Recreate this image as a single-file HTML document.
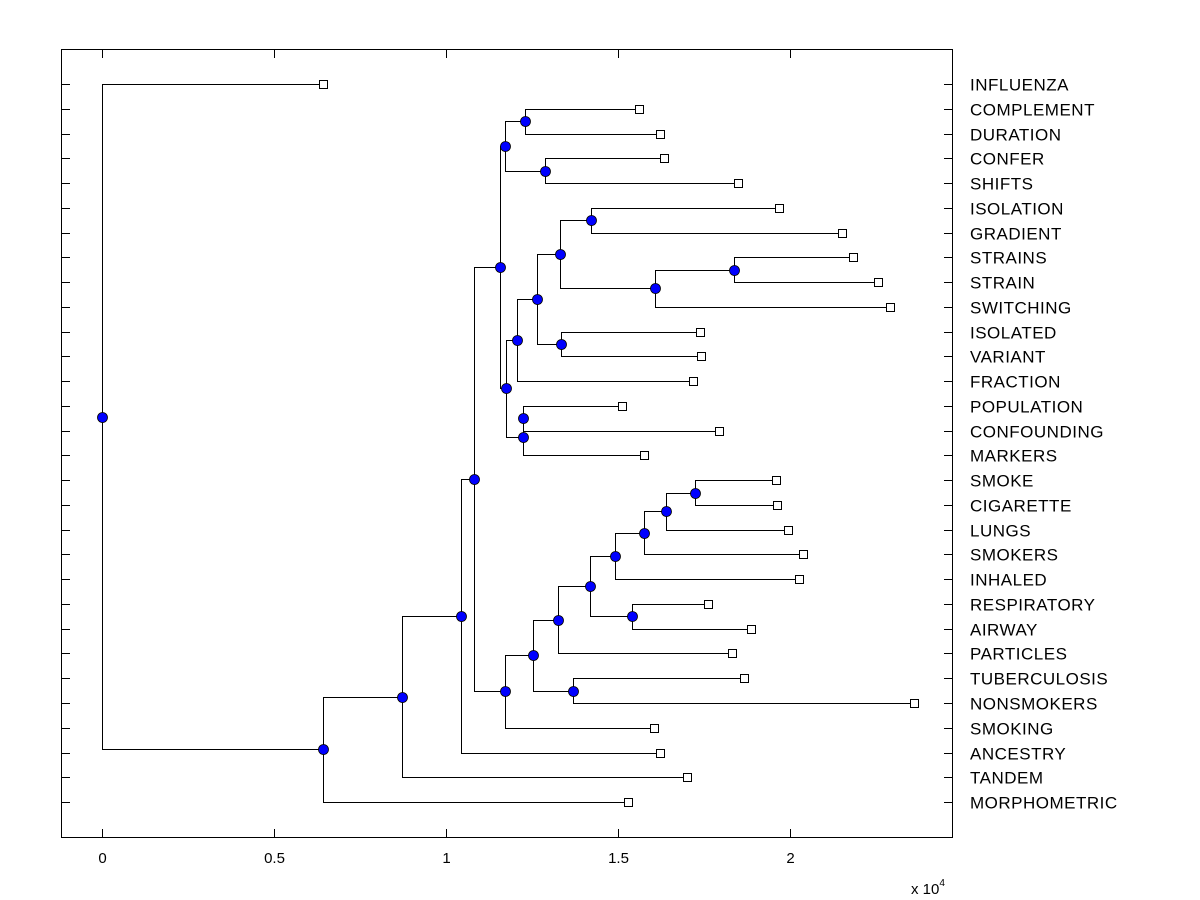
<!DOCTYPE html>
<html><head><meta charset="utf-8"><style>
body{margin:0;background:#fff;}
svg{display:block;font-family:"Liberation Sans",Arial,sans-serif;}
</style></head><body>
<svg id="chart" width="1200" height="900" viewBox="0 0 1200 900">
<rect x="0" y="0" width="1200" height="900" fill="#fff"/>
<rect x="61.5" y="49.5" width="891" height="788" fill="#fff" stroke="#000" stroke-width="1"/>
<g id="ticks"></g>
<g id="links"></g>
<g id="marks"></g>
<g id="labels"></g>
<text x="911" y="894" font-size="15">x 10<tspan font-size="10" dy="-8">4</tspan></text>
</svg>
<script>
const leafLabels=["INFLUENZA","COMPLEMENT","DURATION","CONFER","SHIFTS","ISOLATION","GRADIENT","STRAINS","STRAIN","SWITCHING","ISOLATED","VARIANT","FRACTION","POPULATION","CONFOUNDING","MARKERS","SMOKE","CIGARETTE","LUNGS","SMOKERS","INHALED","RESPIRATORY","AIRWAY","PARTICLES","TUBERCULOSIS","NONSMOKERS","SMOKING","ANCESTRY","TANDEM","MORPHOMETRIC"];
const leafHeights=[6450,15620,16230,16345,18500,19690,21527,21847,22575,22924,17393,17422,17190,15123,17946,15763,19606,19635,19955,20392,20275,17626,18878,18325,18674,23623,16054,16230,17015,15297];
const mergeLeft=[1,3,30,5,7,34,33,10,36,38,13,40,39,32,16,44,45,46,21,47,49,24,50,52,43,54,55,56,0];
const mergeRight=[2,4,31,6,8,9,35,11,37,12,14,15,41,42,17,18,19,20,22,48,23,25,51,26,53,27,28,29,57];
const mergeHeights=[12299,12881,11717,14220,18383,16083,13318,13347,12648,12066,12241,12241,11746,11571,17248,16404,15763,14919,15414,14191,13260,13696,12532,11717,10814,10465,8748,6450,0];
const xTickValues=[0,0.5,1,1.5,2];
const xTickLabels=["0","0.5","1","1.5","2"];

const NS="http://www.w3.org/2000/svg";
const X0=101.5, XS=0.0344, Y0=84, YS=24.76;
function xs(v){return X0+v*XS;}
function ys(r){return Y0+r*YS;}
function mk(tag,attrs,parent){const e=document.createElementNS(NS,tag);for(const k in attrs)e.setAttribute(k,attrs[k]);document.getElementById(parent).appendChild(e);return e;}

const ticks="ticks";
xTickValues.forEach((v,i)=>{
  const x=Math.round(xs(v*10000))+0.5;
  let t=mk("line",{x1:x,x2:x,y1:50,y2:58,stroke:"#000"},ticks);
  
  
  t=mk("line",{x1:x,x2:x,y1:829,y2:837,stroke:"#000"},ticks);
  
  
  const l=mk("text",{x:x,y:863,"font-size":"15","text-anchor":"middle"},ticks);
  l.textContent=xTickLabels[i];
  
  
});

const nodeX=[],nodeY=[];
leafLabels.forEach((n,i)=>{nodeX[i]=xs(leafHeights[i]);nodeY[i]=ys(i);});
mergeLeft.forEach((a,k)=>{const b=mergeRight[k];const id=leafLabels.length+k;nodeX[id]=xs(mergeHeights[k]);nodeY[id]=(nodeY[a]+nodeY[b])/2;});

mergeLeft.forEach((a,k)=>{
  const b=mergeRight[k];const id=leafLabels.length+k;const px=Math.round(nodeX[id])+0.5;
  [a,b].forEach(c=>{
    const cy=Math.round(nodeY[c])+0.5;
    const h=mk("polyline",{points:`${px},${Math.round(nodeY[id])+0.5} ${px},${cy} ${Math.round(nodeX[c])+0.5},${cy}`,fill:"none",stroke:"#000","stroke-width":"1"},"links");
    
    
  });
});

leafLabels.forEach((n,i)=>{
  const y=Math.round(ys(i))+0.5;
  let t=mk("line",{x1:62,x2:70,y1:y,y2:y,stroke:"#000"},ticks);
  
  
  t=mk("line",{x1:944,x2:952,y1:y,y2:y,stroke:"#000"},ticks);
  
  
  const s=mk("rect",{x:Math.round(nodeX[i])-3.5,y:y-4,width:8,height:8,fill:"#fff",stroke:"#000"},"marks");
  
  
  const l=mk("text",{x:970,y:y+6,"font-size":"17","letter-spacing":"0.5"},"labels");
  l.textContent=n;
  
  
});
mergeLeft.forEach((a,k)=>{
  const id=leafLabels.length+k;
  const c=mk("circle",{cx:Math.round(nodeX[id])+0.5,cy:Math.round(nodeY[id])+0.5,r:5,fill:"#0000ff",stroke:"#000","stroke-width":"0.8"},"marks");
  
  
});
</script>
</body></html>
